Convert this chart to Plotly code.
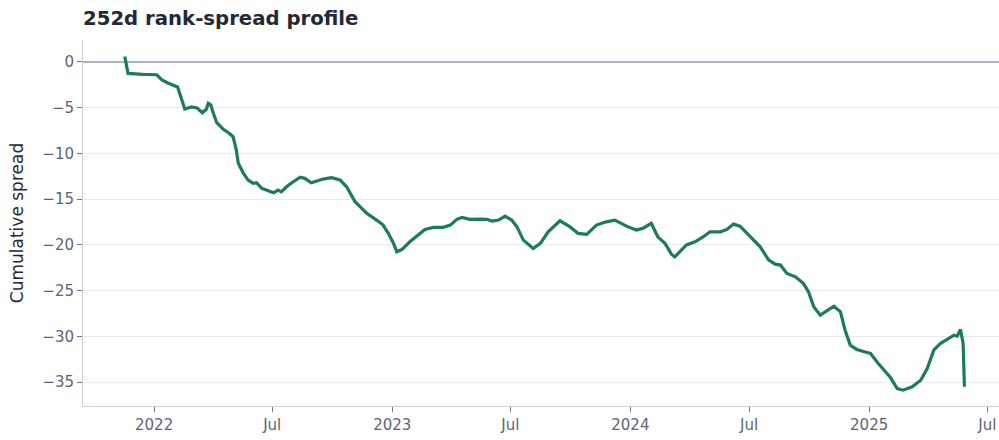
import plotly.graph_objects as go

dates = [
    "2021-11-17", "2021-11-19", "2021-11-22", "2021-12-15", "2022-01-05", "2022-01-13",
    "2022-01-22", "2022-02-06", "2022-02-12", "2022-02-17", "2022-02-27", "2022-03-08",
    "2022-03-16", "2022-03-22", "2022-03-25", "2022-03-29", "2022-04-01", "2022-04-07",
    "2022-04-17", "2022-04-25", "2022-05-02", "2022-05-07", "2022-05-10", "2022-05-18",
    "2022-05-25", "2022-06-02", "2022-06-07", "2022-06-15", "2022-06-22", "2022-07-03",
    "2022-07-10", "2022-07-15", "2022-07-23", "2022-07-31", "2022-08-13", "2022-08-20",
    "2022-08-30", "2022-09-17", "2022-09-30", "2022-10-13", "2022-10-23", "2022-11-05",
    "2022-11-13", "2022-11-23", "2022-12-08", "2022-12-18", "2022-12-26", "2023-01-03",
    "2023-01-08", "2023-01-16", "2023-01-28", "2023-02-10", "2023-02-20", "2023-03-05",
    "2023-03-20", "2023-03-31", "2023-04-10", "2023-04-18", "2023-04-30", "2023-05-16",
    "2023-05-26", "2023-06-03", "2023-06-13", "2023-06-23", "2023-07-03", "2023-07-11",
    "2023-07-21", "2023-08-05", "2023-08-16", "2023-08-28", "2023-09-15", "2023-09-30",
    "2023-10-13", "2023-10-26", "2023-11-10", "2023-11-25", "2023-12-08", "2023-12-18",
    "2023-12-26", "2024-01-10", "2024-01-20", "2024-02-02", "2024-02-12", "2024-02-23",
    "2024-03-04", "2024-03-09", "2024-03-19", "2024-03-27", "2024-04-09", "2024-04-22",
    "2024-05-02", "2024-05-18", "2024-05-28", "2024-06-07", "2024-06-17", "2024-07-03",
    "2024-07-18", "2024-07-31", "2024-08-10", "2024-08-18", "2024-08-28", "2024-09-10",
    "2024-09-22", "2024-09-30", "2024-10-08", "2024-10-18", "2024-11-08", "2024-11-18",
    "2024-11-25", "2024-12-03", "2024-12-13", "2024-12-26", "2025-01-03", "2025-01-15",
    "2025-02-02", "2025-02-13", "2025-02-22", "2025-03-08", "2025-03-21", "2025-03-31",
    "2025-04-10", "2025-04-20", "2025-05-03", "2025-05-11", "2025-05-16", "2025-05-21",
    "2025-05-25", "2025-05-27",
]

cum_spread = [
    0.6, 0.0, -1.25, -1.35, -1.4, -1.97,
    -2.3, -2.73, -4.16, -5.14, -4.92, -5.03,
    -5.55, -5.17, -4.52, -4.7, -5.44, -6.64,
    -7.36, -7.73, -8.17, -9.62, -11.08, -12.17,
    -12.91, -13.27, -13.2, -13.81, -14.0, -14.3,
    -14.0, -14.19, -13.64, -13.2, -12.6, -12.72,
    -13.2, -12.8, -12.65, -12.9, -13.64, -15.28,
    -15.83, -16.55, -17.28, -17.83, -18.73, -19.83,
    -20.75, -20.49, -19.65, -18.92, -18.3, -18.08,
    -18.08, -17.83, -17.2, -16.99, -17.2, -17.17,
    -17.2, -17.39, -17.28, -16.84, -17.28, -18.0,
    -19.47, -20.38, -19.83, -18.56, -17.36, -18.0,
    -18.74, -18.85, -17.83, -17.47, -17.28, -17.64,
    -17.94, -18.37, -18.19, -17.64, -19.11, -19.83,
    -21.0, -21.3, -20.56, -20.0, -19.65, -19.1,
    -18.56, -18.56, -18.3, -17.72, -17.94, -19.1,
    -20.2, -21.66, -22.1, -22.2, -23.11, -23.48,
    -24.2, -25.12, -26.76, -27.67, -26.69, -27.31,
    -29.31, -30.95, -31.42, -31.69, -31.86, -32.95,
    -34.42, -35.69, -35.87, -35.5, -34.78, -33.5,
    -31.5, -30.77, -30.22, -29.86, -29.97, -29.24,
    -30.77, -35.5,
]

x_tick_vals = ["2022-01-01", "2022-07-01", "2023-01-01", "2023-07-01",
               "2024-01-01", "2024-07-01", "2025-01-01", "2025-07-01"]
x_tick_text = ["2022", "Jul", "2023", "Jul", "2024", "Jul", "2025", "Jul"]
y_tick_vals = [0, -5, -10, -15, -20, -25, -30, -35]

FONT = "DejaVu Sans"
TICK_COLOR = "#5b6576"

fig = go.Figure()
fig.add_trace(go.Scatter(
    x=dates, y=cum_spread, mode="lines",
    line=dict(color="#1f7a5a", width=3.2),
    showlegend=False,
))

fig.update_layout(
    width=999, height=440,
    margin=dict(l=83, r=0, t=40, b=34),
    paper_bgcolor="white", plot_bgcolor="white",
    font=dict(family=FONT, color=TICK_COLOR, size=15),
    title=dict(
        text="<b>252d rank-spread profile</b>",
        font=dict(family=FONT, size=19.7, color="#1f2937"),
        x=83 / 999, xanchor="left", xref="container",
        y=1 - 18 / 440, yanchor="middle", yref="container",
    ),
    xaxis=dict(
        type="date",
        range=["2021-09-14", "2025-07-19"],
        tickvals=x_tick_vals, ticktext=x_tick_text,
        showgrid=False, zeroline=False,
        showline=True, linecolor="#c9d1db", linewidth=1,
        ticks="outside", ticklen=5, tickcolor="#6b7585",
        tickfont=dict(family=FONT, size=15, color=TICK_COLOR),
    ),
    yaxis=dict(
        range=[-37.6, 2.4],
        tickvals=y_tick_vals,
        showgrid=True, gridcolor="#e6eaf0", gridwidth=1,
        zeroline=True, zerolinecolor="#a9b3c1", zerolinewidth=1.5,
        showline=True, linecolor="#c9d1db", linewidth=1,
        ticks="outside", ticklen=5, tickcolor="#6b7585",
        tickfont=dict(family=FONT, size=15, color=TICK_COLOR),
        title=dict(text="Cumulative spread", font=dict(family=FONT, size=17, color="#1f2937"), standoff=14),
    ),
)

fig.write_html(
    "out.html",
    config={"displayModeBar": False},
    post_script="document.body.style.margin='0';document.body.style.overflow='hidden';",
)
